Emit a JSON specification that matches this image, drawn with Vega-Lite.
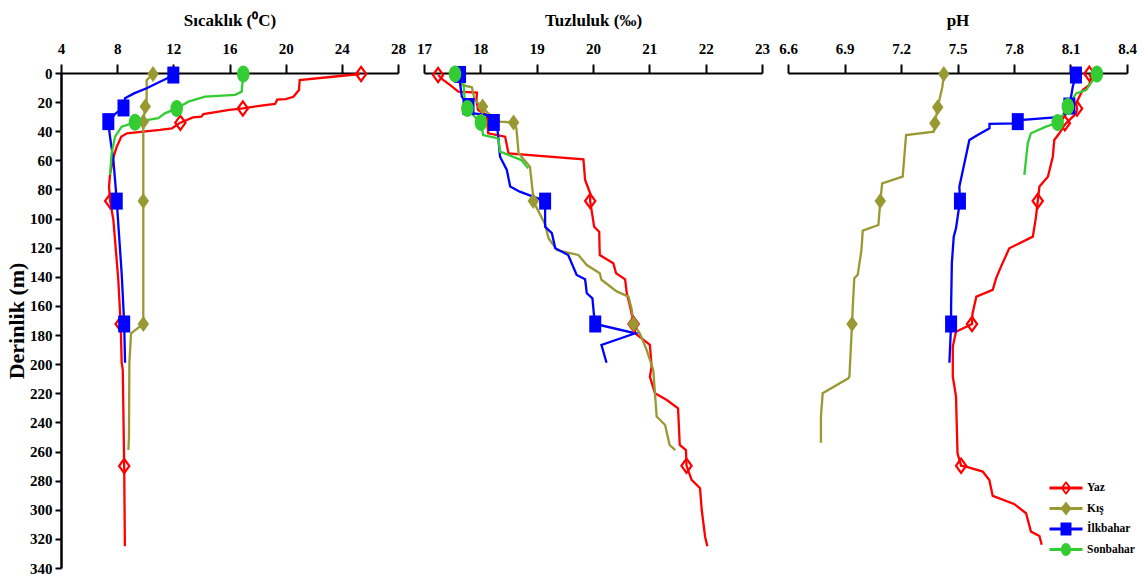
{
"$schema": "https://vega.github.io/schema/vega-lite/v6.json",
"padding": {"left": 5, "top": 11, "right": 5, "bottom": 3},
"background": "white",
"spacing": 26,
"bounds": "flush",
"config": {"view": {"stroke": null}, "font": "Liberation Serif",
 "axis": {"domainColor": "black", "domainWidth": 2, "tickColor": "black", "tickWidth": 2, "labelFont": "Liberation Serif", "labelFontWeight": "bold", "labelColor": "black", "labelFontSize": 15, "titleFont": "Liberation Serif", "titleFontWeight": "bold", "titleColor": "black", "grid": false, "labelOverlap": false, "labelFlush": false}},
"datasets": {
"prof": [
{"p":"T","s":"Yaz","d":0.7,"v":25.3},{"p":"T","s":"Yaz","d":4.8,"v":21.0},{"p":"T","s":"Yaz","d":11.7,"v":20.95},{"p":"T","s":"Yaz","d":16.3,"v":20.55},{"p":"T","s":"Yaz","d":17.9,"v":20.0},{"p":"T","s":"Yaz","d":18.3,"v":19.4},{"p":"T","s":"Yaz","d":21.3,"v":19.24},{"p":"T","s":"Yaz","d":22.2,"v":18.4},{"p":"T","s":"Yaz","d":24.3,"v":16.95},{"p":"T","s":"Yaz","d":25.4,"v":16.0},{"p":"T","s":"Yaz","d":28.2,"v":14.14},{"p":"T","s":"Yaz","d":30.0,"v":14.0},{"p":"T","s":"Yaz","d":30.5,"v":13.4},{"p":"T","s":"Yaz","d":34.1,"v":12.5},{"p":"T","s":"Yaz","d":38.0,"v":11.9},{"p":"T","s":"Yaz","d":39.1,"v":11.05},{"p":"T","s":"Yaz","d":41.4,"v":8.7},{"p":"T","s":"Yaz","d":43.7,"v":8.3},{"p":"T","s":"Yaz","d":50.6,"v":7.97},{"p":"T","s":"Yaz","d":57.5,"v":7.75},{"p":"T","s":"Yaz","d":68.9,"v":7.5},{"p":"T","s":"Yaz","d":78,"v":7.42},{"p":"T","s":"Yaz","d":88,"v":7.5},{"p":"T","s":"Yaz","d":101,"v":7.73},{"p":"T","s":"Yaz","d":142,"v":8.08},{"p":"T","s":"Yaz","d":172.4,"v":8.25},{"p":"T","s":"Yaz","d":199,"v":8.32},{"p":"T","s":"Yaz","d":204,"v":8.4},{"p":"T","s":"Yaz","d":270,"v":8.5},{"p":"T","s":"Yaz","d":325,"v":8.55},
{"p":"T","s":"Kış","d":0.7,"v":10.55},{"p":"T","s":"Kış","d":5,"v":10.1},{"p":"T","s":"Kış","d":20,"v":10.1},{"p":"T","s":"Kış","d":23,"v":10.0},{"p":"T","s":"Kış","d":33.4,"v":9.86},{"p":"T","s":"Kış","d":88,"v":9.86},{"p":"T","s":"Kış","d":172.4,"v":9.86},{"p":"T","s":"Kış","d":178.8,"v":8.99},{"p":"T","s":"Kış","d":199,"v":8.87},{"p":"T","s":"Kış","d":250,"v":8.84},{"p":"T","s":"Kış","d":259,"v":8.8},
{"p":"T","s":"İlkbahar","d":1.4,"v":12.0},{"p":"T","s":"İlkbahar","d":4,"v":11.5},{"p":"T","s":"İlkbahar","d":6,"v":11.05},{"p":"T","s":"İlkbahar","d":10.5,"v":10.1},{"p":"T","s":"İlkbahar","d":14,"v":9.2},{"p":"T","s":"İlkbahar","d":17.4,"v":8.56},{"p":"T","s":"İlkbahar","d":24,"v":8.45},{"p":"T","s":"İlkbahar","d":27.7,"v":7.9},{"p":"T","s":"İlkbahar","d":33.4,"v":7.37},{"p":"T","s":"İlkbahar","d":43.7,"v":7.49},{"p":"T","s":"İlkbahar","d":59.8,"v":7.73},{"p":"T","s":"İlkbahar","d":73.5,"v":7.85},{"p":"T","s":"İlkbahar","d":88,"v":7.97},{"p":"T","s":"İlkbahar","d":137.6,"v":8.32},{"p":"T","s":"İlkbahar","d":160.5,"v":8.44},{"p":"T","s":"İlkbahar","d":172.4,"v":8.5},{"p":"T","s":"İlkbahar","d":199,"v":8.56},
{"p":"T","s":"Sonbahar","d":0.7,"v":16.98},{"p":"T","s":"Sonbahar","d":12.8,"v":16.87},{"p":"T","s":"Sonbahar","d":15,"v":16.4},{"p":"T","s":"Sonbahar","d":16.2,"v":14.26},{"p":"T","s":"Sonbahar","d":19.7,"v":13.07},{"p":"T","s":"Sonbahar","d":24.3,"v":12.24},{"p":"T","s":"Sonbahar","d":27.7,"v":11.4},{"p":"T","s":"Sonbahar","d":31,"v":10.93},{"p":"T","s":"Sonbahar","d":32.3,"v":10.1},{"p":"T","s":"Sonbahar","d":33.9,"v":9.27},{"p":"T","s":"Sonbahar","d":36.9,"v":8.32},{"p":"T","s":"Sonbahar","d":43.7,"v":7.85},{"p":"T","s":"Sonbahar","d":55,"v":7.61},{"p":"T","s":"Sonbahar","d":70,"v":7.49},
{"p":"S","s":"Yaz","d":1.4,"v":17.25},{"p":"S","s":"Yaz","d":4.8,"v":17.34},{"p":"S","s":"Yaz","d":8.2,"v":17.46},{"p":"S","s":"Yaz","d":12.8,"v":17.61},{"p":"S","s":"Yaz","d":13.5,"v":17.94},{"p":"S","s":"Yaz","d":18.5,"v":17.93},{"p":"S","s":"Yaz","d":25.4,"v":17.96},{"p":"S","s":"Yaz","d":28.8,"v":18.11},{"p":"S","s":"Yaz","d":41.4,"v":18.14},{"p":"S","s":"Yaz","d":43.7,"v":18.44},{"p":"S","s":"Yaz","d":55.2,"v":18.5},{"p":"S","s":"Yaz","d":59.3,"v":19.83},{"p":"S","s":"Yaz","d":73.5,"v":19.86},{"p":"S","s":"Yaz","d":82.6,"v":19.95},{"p":"S","s":"Yaz","d":88,"v":19.95},{"p":"S","s":"Yaz","d":105.6,"v":20.02},{"p":"S","s":"Yaz","d":109,"v":20.11},{"p":"S","s":"Yaz","d":125,"v":20.12},{"p":"S","s":"Yaz","d":130.7,"v":20.36},{"p":"S","s":"Yaz","d":137.6,"v":20.41},{"p":"S","s":"Yaz","d":141.7,"v":20.57},{"p":"S","s":"Yaz","d":151.3,"v":20.6},{"p":"S","s":"Yaz","d":160.5,"v":20.66},{"p":"S","s":"Yaz","d":171.9,"v":20.72},{"p":"S","s":"Yaz","d":178.8,"v":20.75},{"p":"S","s":"Yaz","d":186.8,"v":21.01},{"p":"S","s":"Yaz","d":201.7,"v":21.04},{"p":"S","s":"Yaz","d":208.6,"v":21.01},{"p":"S","s":"Yaz","d":220,"v":21.1},{"p":"S","s":"Yaz","d":224.6,"v":21.31},{"p":"S","s":"Yaz","d":230.3,"v":21.51},{"p":"S","s":"Yaz","d":255.5,"v":21.54},{"p":"S","s":"Yaz","d":259,"v":21.65},{"p":"S","s":"Yaz","d":269.7,"v":21.66},{"p":"S","s":"Yaz","d":279.5,"v":21.75},{"p":"S","s":"Yaz","d":285.2,"v":21.9},{"p":"S","s":"Yaz","d":300,"v":21.93},{"p":"S","s":"Yaz","d":318.5,"v":21.99},{"p":"S","s":"Yaz","d":325,"v":22.03},
{"p":"S","s":"Kış","d":0.7,"v":17.62},{"p":"S","s":"Kış","d":8.2,"v":17.67},{"p":"S","s":"Kış","d":9.8,"v":17.85},{"p":"S","s":"Kış","d":18.5,"v":17.9},{"p":"S","s":"Kış","d":23,"v":18.02},{"p":"S","s":"Kış","d":27.7,"v":18.14},{"p":"S","s":"Kış","d":33.4,"v":18.35},{"p":"S","s":"Kış","d":34,"v":18.59},{"p":"S","s":"Kış","d":38,"v":18.64},{"p":"S","s":"Kış","d":55.2,"v":18.68},{"p":"S","s":"Kış","d":64.3,"v":18.88},{"p":"S","s":"Kış","d":85,"v":18.94},{"p":"S","s":"Kış","d":88,"v":18.94},{"p":"S","s":"Kış","d":104,"v":19.15},{"p":"S","s":"Kış","d":113.5,"v":19.21},{"p":"S","s":"Kış","d":121.6,"v":19.36},{"p":"S","s":"Kış","d":125,"v":19.74},{"p":"S","s":"Kış","d":131.9,"v":19.89},{"p":"S","s":"Kış","d":137.6,"v":20.12},{"p":"S","s":"Kış","d":142,"v":20.15},{"p":"S","s":"Kış","d":150,"v":20.42},{"p":"S","s":"Kış","d":153.6,"v":20.63},{"p":"S","s":"Kış","d":162.8,"v":20.69},{"p":"S","s":"Kış","d":172.4,"v":20.72},{"p":"S","s":"Kış","d":178.8,"v":20.83},{"p":"S","s":"Kış","d":190,"v":20.95},{"p":"S","s":"Kış","d":204,"v":21.07},{"p":"S","s":"Kış","d":236,"v":21.13},{"p":"S","s":"Kış","d":241.8,"v":21.28},{"p":"S","s":"Kış","d":255.5,"v":21.36},{"p":"S","s":"Kış","d":259,"v":21.46},
{"p":"S","s":"İlkbahar","d":1,"v":17.64},{"p":"S","s":"İlkbahar","d":7,"v":17.64},{"p":"S","s":"İlkbahar","d":16,"v":17.67},{"p":"S","s":"İlkbahar","d":23,"v":17.79},{"p":"S","s":"İlkbahar","d":27.7,"v":17.88},{"p":"S","s":"İlkbahar","d":28.8,"v":18.11},{"p":"S","s":"İlkbahar","d":34,"v":18.24},{"p":"S","s":"İlkbahar","d":36.8,"v":18.3},{"p":"S","s":"İlkbahar","d":57.5,"v":18.35},{"p":"S","s":"İlkbahar","d":66.6,"v":18.47},{"p":"S","s":"İlkbahar","d":78,"v":18.53},{"p":"S","s":"İlkbahar","d":81.5,"v":18.7},{"p":"S","s":"İlkbahar","d":88,"v":19.15},{"p":"S","s":"İlkbahar","d":105.6,"v":19.15},{"p":"S","s":"İlkbahar","d":110,"v":19.27},{"p":"S","s":"İlkbahar","d":120.4,"v":19.33},{"p":"S","s":"İlkbahar","d":125,"v":19.56},{"p":"S","s":"İlkbahar","d":138.7,"v":19.71},{"p":"S","s":"İlkbahar","d":141.7,"v":19.86},{"p":"S","s":"İlkbahar","d":151.3,"v":19.89},{"p":"S","s":"İlkbahar","d":154.8,"v":19.99},{"p":"S","s":"İlkbahar","d":167.4,"v":20.02},{"p":"S","s":"İlkbahar","d":172.4,"v":20.04},{"p":"S","s":"İlkbahar","d":178.8,"v":20.75},{"p":"S","s":"İlkbahar","d":186.8,"v":20.15},{"p":"S","s":"İlkbahar","d":199,"v":20.24},
{"p":"S","s":"Sonbahar","d":0.7,"v":17.55},{"p":"S","s":"Sonbahar","d":4.8,"v":17.7},{"p":"S","s":"Sonbahar","d":18,"v":17.72},{"p":"S","s":"Sonbahar","d":24.3,"v":17.77},{"p":"S","s":"Sonbahar","d":30,"v":17.9},{"p":"S","s":"Sonbahar","d":34,"v":18.01},{"p":"S","s":"Sonbahar","d":42.6,"v":18.05},{"p":"S","s":"Sonbahar","d":44.9,"v":18.32},{"p":"S","s":"Sonbahar","d":54,"v":18.35},{"p":"S","s":"Sonbahar","d":59.8,"v":18.73},{"p":"S","s":"Sonbahar","d":65.5,"v":18.85},
{"p":"pH","s":"Yaz","d":0.5,"v":8.2},{"p":"pH","s":"Yaz","d":3.7,"v":8.21},{"p":"pH","s":"Yaz","d":8.2,"v":8.2},{"p":"pH","s":"Yaz","d":11.7,"v":8.165},{"p":"pH","s":"Yaz","d":16.3,"v":8.147},{"p":"pH","s":"Yaz","d":20.8,"v":8.13},{"p":"pH","s":"Yaz","d":24.3,"v":8.135},{"p":"pH","s":"Yaz","d":27.7,"v":8.13},{"p":"pH","s":"Yaz","d":35.7,"v":8.068},{"p":"pH","s":"Yaz","d":41.4,"v":8.041},{"p":"pH","s":"Yaz","d":46,"v":8.014},{"p":"pH","s":"Yaz","d":57.5,"v":8.006},{"p":"pH","s":"Yaz","d":71.2,"v":7.98},{"p":"pH","s":"Yaz","d":78,"v":7.935},{"p":"pH","s":"Yaz","d":88,"v":7.926},{"p":"pH","s":"Yaz","d":98.7,"v":7.917},{"p":"pH","s":"Yaz","d":112.4,"v":7.9},{"p":"pH","s":"Yaz","d":120.4,"v":7.775},{"p":"pH","s":"Yaz","d":133,"v":7.731},{"p":"pH","s":"Yaz","d":141,"v":7.705},{"p":"pH","s":"Yaz","d":149,"v":7.687},{"p":"pH","s":"Yaz","d":153.6,"v":7.6},{"p":"pH","s":"Yaz","d":165,"v":7.58},{"p":"pH","s":"Yaz","d":172.4,"v":7.577},{"p":"pH","s":"Yaz","d":177.7,"v":7.492},{"p":"pH","s":"Yaz","d":188,"v":7.475},{"p":"pH","s":"Yaz","d":208.6,"v":7.475},{"p":"pH","s":"Yaz","d":222,"v":7.492},{"p":"pH","s":"Yaz","d":261,"v":7.5},{"p":"pH","s":"Yaz","d":269.7,"v":7.519},{"p":"pH","s":"Yaz","d":270.4,"v":7.545},{"p":"pH","s":"Yaz","d":273.8,"v":7.634},{"p":"pH","s":"Yaz","d":279.5,"v":7.669},{"p":"pH","s":"Yaz","d":290.5,"v":7.687},{"p":"pH","s":"Yaz","d":296,"v":7.8},{"p":"pH","s":"Yaz","d":302.4,"v":7.864},{"p":"pH","s":"Yaz","d":315,"v":7.89},{"p":"pH","s":"Yaz","d":318,"v":7.935},{"p":"pH","s":"Yaz","d":324,"v":7.947},
{"p":"pH","s":"Kış","d":0.7,"v":7.427},{"p":"pH","s":"Kış","d":9.4,"v":7.42},{"p":"pH","s":"Kış","d":23.6,"v":7.395},{"p":"pH","s":"Kış","d":34.6,"v":7.38},{"p":"pH","s":"Kış","d":40.3,"v":7.374},{"p":"pH","s":"Kış","d":42.6,"v":7.227},{"p":"pH","s":"Kış","d":71.2,"v":7.209},{"p":"pH","s":"Kış","d":75.8,"v":7.1},{"p":"pH","s":"Kış","d":88,"v":7.09},{"p":"pH","s":"Kış","d":104.4,"v":7.08},{"p":"pH","s":"Kış","d":108.3,"v":6.997},{"p":"pH","s":"Kış","d":121.6,"v":6.99},{"p":"pH","s":"Kış","d":138.7,"v":6.97},{"p":"pH","s":"Kış","d":141,"v":6.952},{"p":"pH","s":"Kış","d":160.5,"v":6.944},{"p":"pH","s":"Kış","d":172.4,"v":6.94},{"p":"pH","s":"Kış","d":208.6,"v":6.926},{"p":"pH","s":"Kış","d":209.7,"v":6.92},{"p":"pH","s":"Kış","d":220,"v":6.784},{"p":"pH","s":"Kış","d":236,"v":6.775},{"p":"pH","s":"Kış","d":254,"v":6.775},
{"p":"pH","s":"İlkbahar","d":1.4,"v":8.129},{"p":"pH","s":"İlkbahar","d":9.4,"v":8.112},{"p":"pH","s":"İlkbahar","d":16.3,"v":8.103},{"p":"pH","s":"İlkbahar","d":22.7,"v":8.094},{"p":"pH","s":"İlkbahar","d":30,"v":8.068},{"p":"pH","s":"İlkbahar","d":32.3,"v":7.83},{"p":"pH","s":"İlkbahar","d":34.6,"v":7.82},{"p":"pH","s":"İlkbahar","d":35,"v":7.67},{"p":"pH","s":"İlkbahar","d":38,"v":7.67},{"p":"pH","s":"İlkbahar","d":42.6,"v":7.607},{"p":"pH","s":"İlkbahar","d":46,"v":7.563},{"p":"pH","s":"İlkbahar","d":78,"v":7.51},{"p":"pH","s":"İlkbahar","d":88,"v":7.513},{"p":"pH","s":"İlkbahar","d":106.7,"v":7.492},{"p":"pH","s":"İlkbahar","d":112.4,"v":7.48},{"p":"pH","s":"İlkbahar","d":130.7,"v":7.47},{"p":"pH","s":"İlkbahar","d":160.5,"v":7.466},{"p":"pH","s":"İlkbahar","d":172.4,"v":7.466},{"p":"pH","s":"İlkbahar","d":199,"v":7.457},
{"p":"pH","s":"Sonbahar","d":0.7,"v":8.24},{"p":"pH","s":"Sonbahar","d":11.7,"v":8.183},{"p":"pH","s":"Sonbahar","d":14,"v":8.13},{"p":"pH","s":"Sonbahar","d":23,"v":8.086},{"p":"pH","s":"Sonbahar","d":28.8,"v":8.06},{"p":"pH","s":"Sonbahar","d":34,"v":8.032},{"p":"pH","s":"Sonbahar","d":36.8,"v":7.97},{"p":"pH","s":"Sonbahar","d":41.4,"v":7.89},{"p":"pH","s":"Sonbahar","d":48.3,"v":7.873},{"p":"pH","s":"Sonbahar","d":70,"v":7.855}
],
"mk": [
{"p":"T","s":"Yaz","d":0.7,"v":25.37},{"p":"T","s":"Yaz","d":24.3,"v":16.95},{"p":"T","s":"Yaz","d":34.1,"v":12.5},{"p":"T","s":"Yaz","d":88,"v":7.5},{"p":"T","s":"Yaz","d":172.4,"v":8.25},{"p":"T","s":"Yaz","d":270,"v":8.5},
{"p":"T","s":"Kış","d":0.7,"v":10.55},{"p":"T","s":"Kış","d":23,"v":10.0},{"p":"T","s":"Kış","d":33.4,"v":9.86},{"p":"T","s":"Kış","d":88,"v":9.86},{"p":"T","s":"Kış","d":172.4,"v":9.86},
{"p":"T","s":"İlkbahar","d":1.4,"v":12.0},{"p":"T","s":"İlkbahar","d":24,"v":8.45},{"p":"T","s":"İlkbahar","d":33.4,"v":7.37},{"p":"T","s":"İlkbahar","d":88,"v":7.97},{"p":"T","s":"İlkbahar","d":172.4,"v":8.5},
{"p":"T","s":"Sonbahar","d":0.7,"v":16.98},{"p":"T","s":"Sonbahar","d":24.3,"v":12.24},{"p":"T","s":"Sonbahar","d":33.9,"v":9.27},
{"p":"S","s":"Yaz","d":1.4,"v":17.25},{"p":"S","s":"Yaz","d":88,"v":19.95},{"p":"S","s":"Yaz","d":172.4,"v":20.72},{"p":"S","s":"Yaz","d":269.7,"v":21.66},
{"p":"S","s":"Kış","d":0.7,"v":17.62},{"p":"S","s":"Kış","d":23,"v":18.04},{"p":"S","s":"Kış","d":34,"v":18.59},{"p":"S","s":"Kış","d":88,"v":18.94},{"p":"S","s":"Kış","d":172.4,"v":20.72},
{"p":"S","s":"İlkbahar","d":1,"v":17.64},{"p":"S","s":"İlkbahar","d":23,"v":17.79},{"p":"S","s":"İlkbahar","d":34,"v":18.24},{"p":"S","s":"İlkbahar","d":88,"v":19.15},{"p":"S","s":"İlkbahar","d":172.4,"v":20.04},
{"p":"S","s":"Sonbahar","d":0.7,"v":17.55},{"p":"S","s":"Sonbahar","d":24.3,"v":17.77},{"p":"S","s":"Sonbahar","d":34,"v":18.01},
{"p":"pH","s":"Yaz","d":0.5,"v":8.2},{"p":"pH","s":"Yaz","d":24.3,"v":8.135},{"p":"pH","s":"Yaz","d":34.5,"v":8.07},{"p":"pH","s":"Yaz","d":88,"v":7.926},{"p":"pH","s":"Yaz","d":172.4,"v":7.577},{"p":"pH","s":"Yaz","d":269.7,"v":7.519},
{"p":"pH","s":"Kış","d":0.7,"v":7.427},{"p":"pH","s":"Kış","d":23.6,"v":7.395},{"p":"pH","s":"Kış","d":34.6,"v":7.38},{"p":"pH","s":"Kış","d":88,"v":7.09},{"p":"pH","s":"Kış","d":172.4,"v":6.94},
{"p":"pH","s":"İlkbahar","d":1.4,"v":8.129},{"p":"pH","s":"İlkbahar","d":22.7,"v":8.094},{"p":"pH","s":"İlkbahar","d":33.4,"v":7.82},{"p":"pH","s":"İlkbahar","d":88,"v":7.513},{"p":"pH","s":"İlkbahar","d":172.4,"v":7.466},
{"p":"pH","s":"Sonbahar","d":0.7,"v":8.24},{"p":"pH","s":"Sonbahar","d":23,"v":8.086},{"p":"pH","s":"Sonbahar","d":34,"v":8.032}
]
},
"resolve": {"scale": {"color": "independent", "shape": "independent"}, "legend": {"color": "independent", "shape": "independent"}},
"hconcat": [
{
 "width": 337, "height": 495,
 "layer": [
  {"data": {"name": "prof"}, "transform": [{"filter": "datum.p == 'T'"}],
   "mark": {"type": "line", "strokeWidth": 2.3},
   "encoding": {
    "x": {"field": "v", "type": "quantitative", "scale": {"domain": [4, 28], "nice": false, "zero": false}, "axis": {"orient": "top", "values": [4,8,12,16,20,24,28], "tickCount": 20, "format": "d", "title": "Sıcaklık (⁰C)", "titleFontSize": 17, "tickSize": 9, "labelPadding": 8, "titlePadding": 12}},
    "y": {"field": "d", "type": "quantitative", "scale": {"domain": [0, 340], "reverse": true, "nice": false, "zero": false}, "axis": {"orient": "left", "values": [0,20,40,60,80,100,120,140,160,180,200,220,240,260,280,300,320,340], "tickCount": 30, "format": "d", "title": "Derinlik (m)", "titleFontSize": 22, "tickSize": 6, "labelPadding": 3, "titlePadding": 1, "domainWidth": 2.5}},
    "color": {"field": "s", "type": "nominal", "scale": {"domain": ["Yaz","Kış","İlkbahar","Sonbahar"], "range": ["#FF0000","#999933","#0000FF","#33CC33"]}, "legend": null},
    "order": {"field": "d", "type": "quantitative"}
   }},
  {"data": {"name": "mk"}, "transform": [{"filter": "datum.p == 'T'"}],
   "mark": {"type": "point", "filled": true, "opacity": 1, "size": 100, "strokeWidth": 0},
   "encoding": {
    "x": {"field": "v", "type": "quantitative"},
    "y": {"field": "d", "type": "quantitative"},
    "color": {"field": "s", "type": "nominal", "legend": null},
    "shape": {"field": "s", "type": "nominal", "scale": {"domain": ["Yaz","Kış","İlkbahar","Sonbahar"], "range": ["M0,-1.8L1.3,0L0,1.8L-1.3,0ZM0,-1.05L-0.75,0L0,1.05L0.75,0Z","M0,-1.6L1.15,0L0,1.6L-1.15,0Z","M-1.2,-1.7L1.2,-1.7L1.2,1.7L-1.2,1.7Z","M-1.25,0C-1.25,-0.94,-0.69,-1.7,0,-1.7C0.69,-1.7,1.25,-0.94,1.25,0C1.25,0.94,0.69,1.7,0,1.7C-0.69,1.7,-1.25,0.94,-1.25,0Z"]}, "legend": null}
   }}
 ]
},
{
 "width": 338, "height": 495,
 "layer": [
  {"data": {"name": "prof"}, "transform": [{"filter": "datum.p == 'S'"}],
   "mark": {"type": "line", "strokeWidth": 2.3},
   "encoding": {
    "x": {"field": "v", "type": "quantitative", "scale": {"domain": [17, 23], "nice": false, "zero": false}, "axis": {"orient": "top", "values": [17,18,19,20,21,22,23], "tickCount": 20, "format": "d", "title": "Tuzluluk (‰)", "titleFontSize": 17, "tickSize": 9, "labelPadding": 8, "titlePadding": 12}},
    "y": {"field": "d", "type": "quantitative", "scale": {"domain": [0, 340], "reverse": true, "nice": false, "zero": false}, "axis": null},
    "color": {"field": "s", "type": "nominal", "scale": {"domain": ["Yaz","Kış","İlkbahar","Sonbahar"], "range": ["#FF0000","#999933","#0000FF","#33CC33"]}, "legend": null},
    "order": {"field": "d", "type": "quantitative"}
   }},
  {"data": {"name": "mk"}, "transform": [{"filter": "datum.p == 'S'"}],
   "mark": {"type": "point", "filled": true, "opacity": 1, "size": 100, "strokeWidth": 0},
   "encoding": {
    "x": {"field": "v", "type": "quantitative"},
    "y": {"field": "d", "type": "quantitative"},
    "color": {"field": "s", "type": "nominal", "legend": null},
    "shape": {"field": "s", "type": "nominal", "scale": {"domain": ["Yaz","Kış","İlkbahar","Sonbahar"], "range": ["M0,-1.8L1.3,0L0,1.8L-1.3,0ZM0,-1.05L-0.75,0L0,1.05L0.75,0Z","M0,-1.6L1.15,0L0,1.6L-1.15,0Z","M-1.2,-1.7L1.2,-1.7L1.2,1.7L-1.2,1.7Z","M-1.25,0C-1.25,-0.94,-0.69,-1.7,0,-1.7C0.69,-1.7,1.25,-0.94,1.25,0C1.25,0.94,0.69,1.7,0,1.7C-0.69,1.7,-1.25,0.94,-1.25,0Z"]}, "legend": null}
   }}
 ]
},
{
 "width": 339, "height": 495,
 "resolve": {"scale": {"color": "independent", "shape": "independent"}, "legend": {"color": "independent", "shape": "independent"}},
 "layer": [
  {"data": {"name": "prof"}, "transform": [{"filter": "datum.p == 'pH'"}],
   "mark": {"type": "line", "strokeWidth": 2.3},
   "encoding": {
    "x": {"field": "v", "type": "quantitative", "scale": {"domain": [6.6, 8.4], "nice": false, "zero": false}, "axis": {"orient": "top", "values": [6.6,6.9,7.2,7.5,7.8,8.1,8.4], "tickCount": 20, "format": ".1f", "title": "pH", "titleFontSize": 17, "tickSize": 9, "labelPadding": 8, "titlePadding": 12}},
    "y": {"field": "d", "type": "quantitative", "scale": {"domain": [0, 340], "reverse": true, "nice": false, "zero": false}, "axis": null},
    "color": {"field": "s", "type": "nominal", "scale": {"domain": ["Yaz","Kış","İlkbahar","Sonbahar"], "range": ["#FF0000","#999933","#0000FF","#33CC33"]}, "legend": null},
    "order": {"field": "d", "type": "quantitative"}
   }},
  {"data": {"name": "mk"}, "transform": [{"filter": "datum.p == 'pH'"}],
   "mark": {"type": "point", "filled": true, "opacity": 1, "size": 100, "strokeWidth": 0},
   "encoding": {
    "x": {"field": "v", "type": "quantitative"},
    "y": {"field": "d", "type": "quantitative"},
    "color": {"field": "s", "type": "nominal", "scale": {"domain": ["Yaz","Kış","İlkbahar","Sonbahar"], "range": ["#FF0000","#999933","#0000FF","#33CC33"]}, "legend": null},
    "shape": {"field": "s", "type": "nominal", "scale": {"domain": ["Yaz","Kış","İlkbahar","Sonbahar"], "range": ["M0,-1.8L1.3,0L0,1.8L-1.3,0ZM0,-1.05L-0.75,0L0,1.05L0.75,0Z","M0,-1.6L1.15,0L0,1.6L-1.15,0Z","M-1.2,-1.7L1.2,-1.7L1.2,1.7L-1.2,1.7Z","M-1.25,0C-1.25,-0.94,-0.69,-1.7,0,-1.7C0.69,-1.7,1.25,-0.94,1.25,0C1.25,0.94,0.69,1.7,0,1.7C-0.69,1.7,-1.25,0.94,-1.25,0Z"]}, "legend": null}
   }},
  {"data": {"values": [{"s": "Yaz"}, {"s": "Kış"}, {"s": "İlkbahar"}, {"s": "Sonbahar"}]},
   "mark": {"type": "point", "filled": true, "opacity": 0},
   "encoding": {
    "color": {"field": "s", "type": "nominal", "scale": {"domain": ["Yaz","Kış","İlkbahar","Sonbahar"], "range": ["#FF0000","#999933","#0000FF","#33CC33"]}, "legend": {"title": null, "orient": "none", "legendX": 268, "legendY": 405, "symbolSize": 400, "symbolStrokeWidth": 0, "symbolOpacity": 1, "labelFont": "Liberation Serif", "labelFontWeight": "bold", "labelFontSize": 11.5, "labelColor": "black", "labelOffset": 11, "rowPadding": 3.5}},
    "shape": {"field": "s", "type": "nominal", "scale": {"domain": ["Yaz","Kış","İlkbahar","Sonbahar"], "range": ["M-1.65,-0.14L1.65,-0.14L1.65,0.14L-1.65,0.14ZM0,-0.7L0.55,0L0,0.7L-0.55,0ZM0,-0.42L-0.3,0L0,0.42L0.3,0Z","M-1.65,-0.14L1.65,-0.14L1.65,0.14L-1.65,0.14ZM0,-0.7L0.55,0L0,0.7L-0.55,0Z","M-1.65,-0.14L1.65,-0.14L1.65,0.14L-1.65,0.14ZM-0.55,-0.65L0.55,-0.65L0.55,0.65L-0.55,0.65Z","M-1.65,-0.14L1.65,-0.14L1.65,0.14L-1.65,0.14ZM-0.5,0C-0.5,-0.36,-0.28,-0.65,0,-0.65C0.28,-0.65,0.5,-0.36,0.5,0C0.5,0.36,0.28,0.65,0,0.65C-0.28,0.65,-0.5,0.36,-0.5,0Z"]}, "legend": {"title": null, "orient": "none", "legendX": 268, "legendY": 405, "symbolSize": 400, "symbolStrokeWidth": 0, "symbolOpacity": 1, "labelFont": "Liberation Serif", "labelFontWeight": "bold", "labelFontSize": 11.5, "labelColor": "black", "labelOffset": 11, "rowPadding": 3.5}}
   }}
 ]
}
]
}
